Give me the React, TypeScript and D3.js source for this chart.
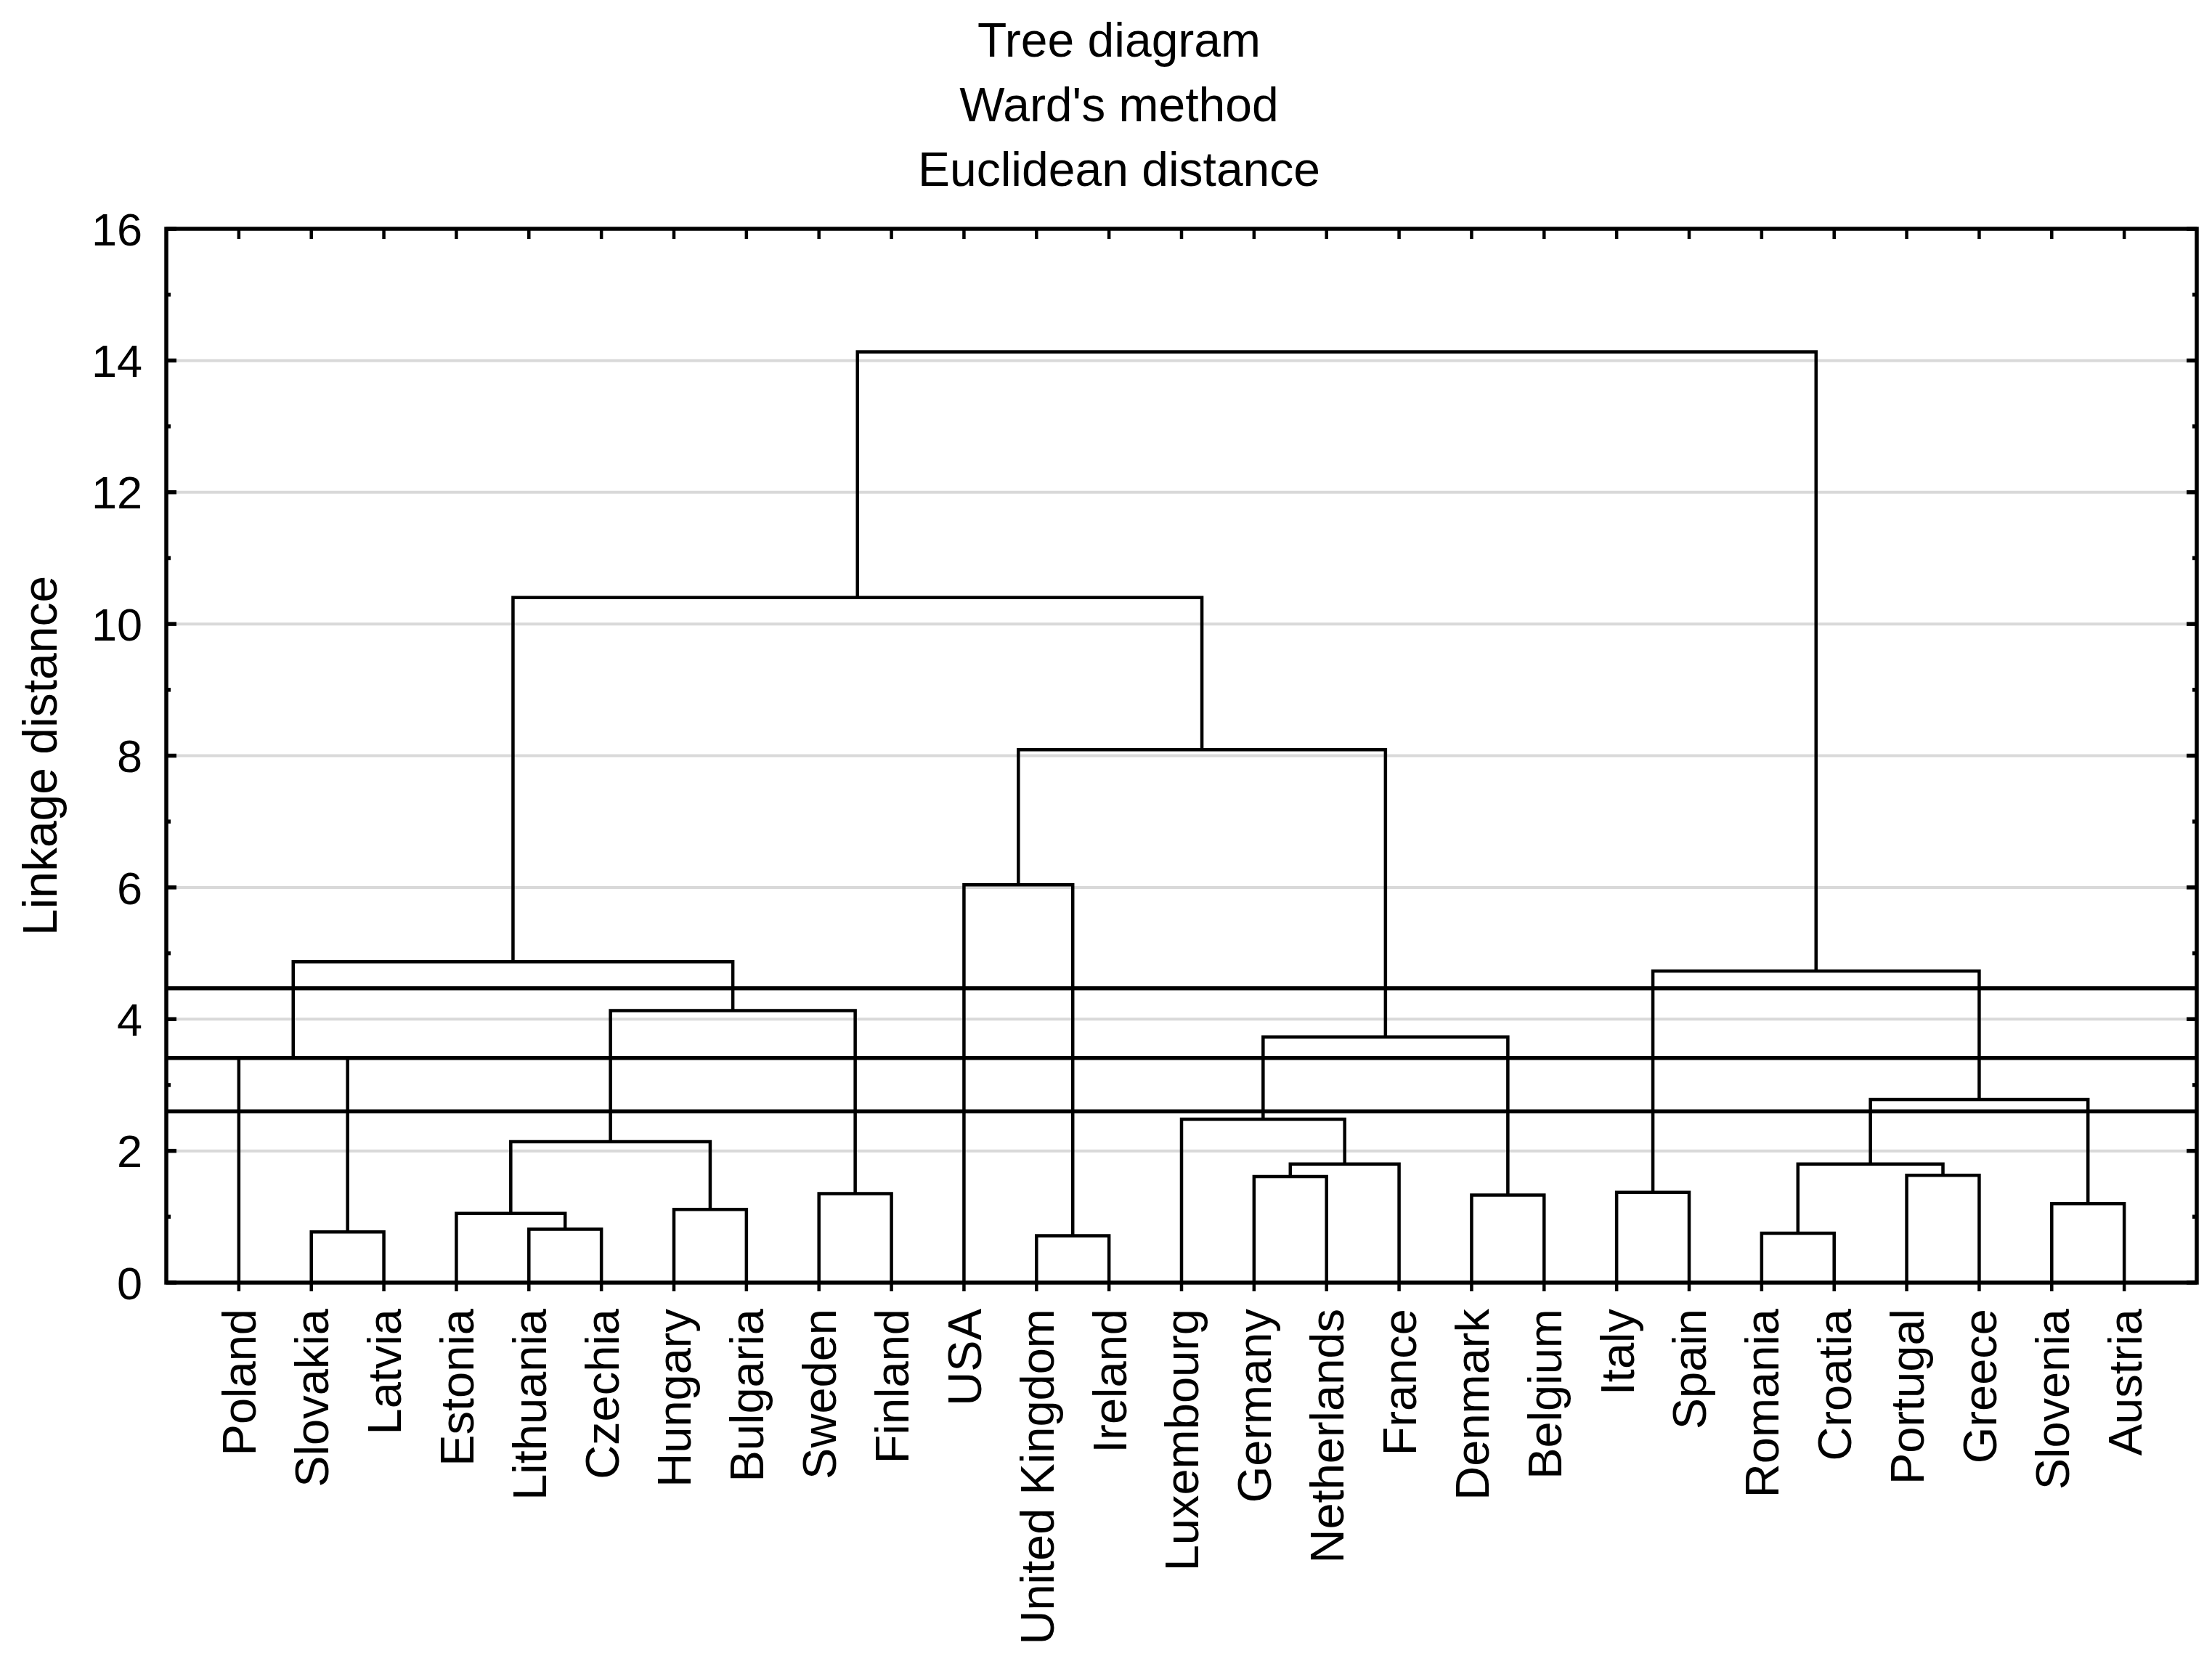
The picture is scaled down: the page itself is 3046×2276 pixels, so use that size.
import * as d3 from "d3";
import { useEffect, useRef } from "react";

// leaf order along the x axis
const countries = [
  "Poland", "Slovakia", "Latvia", "Estonia", "Lithuania", "Czechia", "Hungary",
  "Bulgaria", "Sweden", "Finland", "USA", "United Kingdom", "Ireland",
  "Luxembourg", "Germany", "Netherlands", "France", "Denmark", "Belgium",
  "Italy", "Spain", "Romania", "Croatia", "Portugal", "Greece", "Slovenia", "Austria",
];

// [left, right, linkage distance]; "mN" refers to the N-th merge
const merges: [string, string, number][] = [
  ["Slovakia", "Latvia", 0.77],
  ["Lithuania", "Czechia", 0.81],
  ["Estonia", "m1", 1.05],
  ["Hungary", "Bulgaria", 1.11],
  ["m2", "m3", 2.14],
  ["Sweden", "Finland", 1.35],
  ["m4", "m5", 4.13],
  ["Poland", "m0", 3.41],
  ["m7", "m6", 4.87],
  ["United Kingdom", "Ireland", 0.71],
  ["USA", "m9", 6.04],
  ["Germany", "Netherlands", 1.61],
  ["m11", "France", 1.80],
  ["Luxembourg", "m12", 2.48],
  ["Denmark", "Belgium", 1.33],
  ["m13", "m14", 3.73],
  ["m10", "m15", 8.09],
  ["m8", "m16", 10.40],
  ["Italy", "Spain", 1.37],
  ["Romania", "Croatia", 0.75],
  ["Portugal", "Greece", 1.63],
  ["m19", "m20", 1.80],
  ["Slovenia", "Austria", 1.20],
  ["m21", "m22", 2.78],
  ["m18", "m23", 4.73],
  ["m17", "m24", 14.13],
];

// horizontal cut lines
const cutLevels = [4.47, 3.41, 2.60];

const yTicks = [0, 2, 4, 6, 8, 10, 12, 14, 16];
const yMinorTicks = [1, 3, 5, 7, 9, 11, 13, 15];

const titleLines = ["Tree diagram", "Ward's method", "Euclidean distance"];

function Dendrogram() {
  const ref = useRef<SVGSVGElement>(null);

  useEffect(() => {
    const width = 3046;
    const height = 2276;
    const m = { left: 229, right: 21, top: 315, bottom: 510 };
    const font = "'Liberation Sans', Arial, sans-serif";

    const svg = d3.select(ref.current!);
    svg.selectAll("*").remove();
    svg.attr("width", width).attr("height", height);

    const x = d3.scaleLinear().domain([0, countries.length + 1]).range([m.left, width - m.right]);
    const y = d3.scaleLinear().domain([0, 16]).range([height - m.bottom, m.top]);

    // grid
    svg.append("g")
      .selectAll("line")
      .data(yTicks.filter(t => t > 0 && t < 16))
      .join("line")
      .attr("x1", x(0)).attr("x2", x(countries.length + 1))
      .attr("y1", d => y(d)).attr("y2", d => y(d))
      .attr("stroke", "#d9d9d9")
      .attr("stroke-width", 4);

    // positions of leaves and merges
    const pos = new Map<string, { x: number; h: number }>();
    countries.forEach((c, i) => pos.set(c, { x: x(i + 1), h: 0 }));
    const links: string[] = [];
    merges.forEach(([a, b, h], i) => {
      const pa = pos.get(a)!;
      const pb = pos.get(b)!;
      links.push(`M${pa.x},${y(pa.h)}V${y(h)}H${pb.x}V${y(pb.h)}`);
      pos.set("m" + i, { x: (pa.x + pb.x) / 2, h });
    });

    svg.append("g")
      .attr("fill", "none")
      .attr("stroke", "#000")
      .attr("stroke-width", 4.5)
      .attr("stroke-linejoin", "miter")
      .selectAll("path")
      .data(links)
      .join("path")
      .attr("d", d => d);

    svg.append("g")
      .selectAll("line")
      .data(cutLevels)
      .join("line")
      .attr("x1", x(0)).attr("x2", x(countries.length + 1))
      .attr("y1", d => y(d)).attr("y2", d => y(d))
      .attr("stroke", "#000")
      .attr("stroke-width", 5.5);

    // frame
    svg.append("rect")
      .attr("x", x(0)).attr("y", y(16))
      .attr("width", x(countries.length + 1) - x(0))
      .attr("height", y(0) - y(16))
      .attr("fill", "none")
      .attr("stroke", "#000")
      .attr("stroke-width", 5.5);

    const ticks = svg.append("g").attr("stroke", "#000");
    // top ticks (inside) and bottom ticks (outside) at leaves
    ticks.selectAll(".tt")
      .data(countries)
      .join("line")
      .attr("class", "tt")
      .attr("x1", (_, i) => x(i + 1)).attr("x2", (_, i) => x(i + 1))
      .attr("y1", y(16)).attr("y2", y(16) + 14)
      .attr("stroke-width", 4.5);
    ticks.selectAll(".bt")
      .data(countries)
      .join("line")
      .attr("class", "bt")
      .attr("x1", (_, i) => x(i + 1)).attr("x2", (_, i) => x(i + 1))
      .attr("y1", y(0)).attr("y2", y(0) + 12)
      .attr("stroke-width", 4.5);
    // y ticks on both sides, pointing inward
    [x(0), x(countries.length + 1)].forEach((xx, side) => {
      const dir = side === 0 ? 1 : -1;
      ticks.append("g").selectAll("line")
        .data(yTicks)
        .join("line")
        .attr("x1", xx).attr("x2", xx + dir * 14)
        .attr("y1", d => y(d)).attr("y2", d => y(d))
        .attr("stroke-width", 5.5);
      ticks.append("g").selectAll("line")
        .data(yMinorTicks)
        .join("line")
        .attr("x1", xx).attr("x2", xx + dir * 6)
        .attr("y1", d => y(d)).attr("y2", d => y(d))
        .attr("stroke-width", 5.5);
    });

    // y tick labels
    svg.append("g")
      .attr("font-family", font)
      .attr("font-size", 63)
      .attr("text-anchor", "end")
      .selectAll("text")
      .data(yTicks)
      .join("text")
      .attr("x", 196)
      .attr("y", d => y(d))
      .attr("dy", "0.36em")
      .text(d => d);

    // leaf labels
    svg.append("g")
      .attr("font-family", font)
      .attr("font-size", 65)
      .attr("text-anchor", "end")
      .selectAll("text")
      .data(countries)
      .join("text")
      .attr("transform", (_, i) => `translate(${x(i + 1)},1802) rotate(-90)`)
      .attr("dy", "0.36em")
      .text(d => d);

    // axis title
    svg.append("text")
      .attr("font-family", font)
      .attr("font-size", 66)
      .attr("text-anchor", "middle")
      .attr("transform", `translate(54,${(y(0) + y(16)) / 2}) rotate(-90)`)
      .attr("dy", "0.36em")
      .text("Linkage distance");

    // title
    svg.append("g")
      .attr("font-family", font)
      .attr("font-size", 66)
      .attr("text-anchor", "middle")
      .selectAll("text")
      .data(titleLines)
      .join("text")
      .attr("x", 1541)
      .attr("y", (_, i) => 78 + i * 89)
      .text(d => d);
  }, []);

  return <svg ref={ref} style={{ display: "block" }}></svg>;
}

export default function App() {
  useEffect(() => {
    document.body.style.margin = "0";
  }, []);
  return <Dendrogram />;
}
